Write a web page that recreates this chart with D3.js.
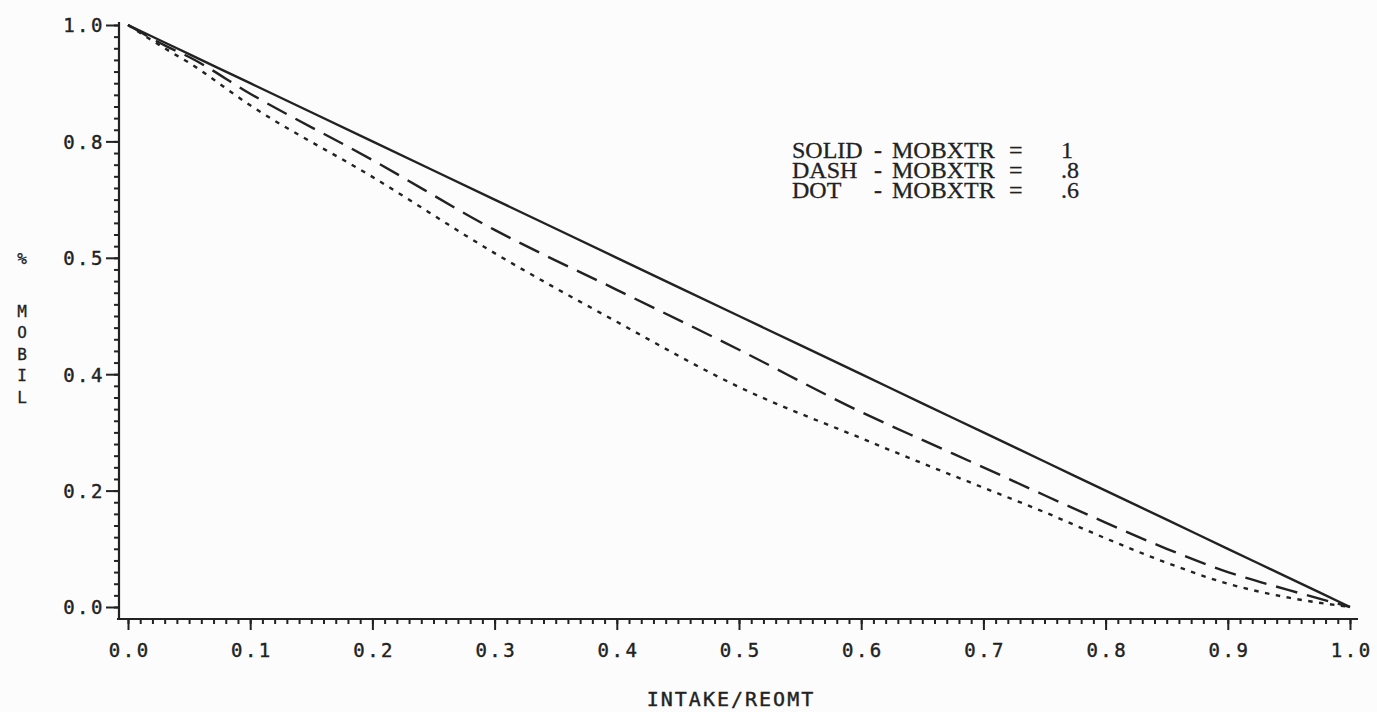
<!DOCTYPE html>
<html>
<head>
<meta charset="utf-8">
<script src="https://cdn.jsdelivr.net/npm/d3@7"></script>
<style>
  body { margin: 0; background: #fcfcfc; }
  svg { display: block; }
</style>
</head>
<body>
<div id="chart"></div>
<script>
// values
var xValues   = [0, 0.03, 0.05, 0.1, 0.2, 0.3, 0.4, 0.5, 0.6, 0.65, 0.7, 0.75, 0.8, 0.85, 0.9, 0.95, 1.0];
var solidMob  = [1, 0.97, 0.95, 0.9, 0.8, 0.7, 0.6, 0.5, 0.4, 0.35, 0.3, 0.25, 0.2, 0.15, 0.1, 0.05, 0];
var dashMob   = [1, 0.965, 0.945, 0.882, 0.768, 0.648, 0.545, 0.442, 0.335, 0.287, 0.24, 0.192, 0.145, 0.1, 0.06, 0.029, 0];
var dotMob    = [1, 0.96, 0.935, 0.862, 0.739, 0.608, 0.49, 0.378, 0.29, 0.247, 0.205, 0.163, 0.118, 0.076, 0.04, 0.016, 0];

var xTicks = [0, 0.1, 0.2, 0.3, 0.4, 0.5, 0.6, 0.7, 0.8, 0.9, 1.0];
var xTickLabels = ["0.0", "0.1", "0.2", "0.3", "0.4", "0.5", "0.6", "0.7", "0.8", "0.9", "1.0"];
var yTicks = [0, 0.2, 0.4, 0.6, 0.8, 1.0];
var yTickLabels = ["0.0", "0.2", "0.4", "0.5", "0.8", "1.0"];

var legendNames = ["SOLID", "DASH", "DOT"];
var legendValues = ["1", ".8", ".6"];

var W = 1377, H = 712;
var ink = "#222";

var svg = d3.select("#chart")
    .append("svg")
    .attr("width", W)
    .attr("height", H);

var xScale = d3.scaleLinear().domain([0, 1]).range([128, 1350]);
var yScale = d3.scaleLinear().domain([0, 1]).range([607, 25]);

var axisX = 119, axisY = 619;

// axis lines (offset from the data origin like the old plotter)
svg.append("line")
    .attr("x1", axisX).attr("x2", axisX)
    .attr("y1", yScale(1) - 3).attr("y2", axisY)
    .attr("stroke", ink).attr("stroke-width", 2.2);
svg.append("line")
    .attr("x1", axisX - 2).attr("x2", 1358)
    .attr("y1", axisY).attr("y2", axisY)
    .attr("stroke", ink).attr("stroke-width", 2.2);

// minor ticks
var yMinor = d3.range(0, 51).map(function (i) { return i / 50; });
var xMinor = d3.range(0, 101).map(function (i) { return i / 100; });

var yMinorAxis = svg.append("g")
    .attr("transform", "translate(" + axisX + ",0)")
    .call(d3.axisLeft(yScale).tickValues(yMinor).tickSize(5).tickFormat(""));
var xMinorAxis = svg.append("g")
    .attr("transform", "translate(0," + axisY + ")")
    .call(d3.axisBottom(xScale).tickValues(xMinor).tickSize(5).tickFormat(""));

// major ticks + labels
var yMajorAxis = svg.append("g")
    .attr("transform", "translate(" + axisX + ",0)")
    .call(d3.axisLeft(yScale).tickValues(yTicks).tickSize(13).tickPadding(3)
        .tickFormat(function (d, i) { return yTickLabels[i]; }));
var xMajorAxis = svg.append("g")
    .attr("transform", "translate(0," + axisY + ")")
    .call(d3.axisBottom(xScale).tickValues(xTicks).tickSize(11).tickPadding(14)
        .tickFormat(function (d, i) { return xTickLabels[i]; }));

[yMinorAxis, xMinorAxis, yMajorAxis, xMajorAxis].forEach(function (g) {
    g.select(".domain").remove();
    g.selectAll(".tick line").attr("stroke", ink).attr("stroke-width", 2);
    g.selectAll(".tick text")
        .attr("fill", ink)
        .attr("stroke", ink)
        .attr("stroke-width", 0.4)
        .style("font-family", "'DejaVu Sans Mono', monospace")
        .style("font-size", "19px")
        .style("letter-spacing", "2.5px");
});
yMajorAxis.selectAll(".tick text").attr("dy", "0.36em").attr("x", -14);
xMajorAxis.selectAll(".tick text").attr("dy", "0.71em").attr("dx", "1.2px");

// curves
var line = d3.line()
    .x(function (d) { return xScale(d[0]); })
    .y(function (d) { return yScale(d[1]); })
    .curve(d3.curveMonotoneX);

var series = [
    { vals: solidMob, dash: null },
    { vals: dashMob, dash: "22,10" },
    { vals: dotMob, dash: "4.5,6.5" }
];

svg.selectAll(".curve")
    .data(series)
    .enter()
    .append("path")
    .attr("class", "curve")
    .attr("d", function (s) { return line(xValues.map(function (x, i) { return [x, s.vals[i]]; })); })
    .attr("fill", "none")
    .attr("stroke", ink)
    .attr("stroke-width", 2.4)
    .attr("stroke-dasharray", function (s) { return s.dash; });

// y title: "%" level with the 0.6 tick, then M-O-B-I-L stacked, I level with 0.4
svg.selectAll(".ytitle")
    .data(["%", "M", "O", "B", "I", "L"])
    .enter()
    .append("text")
    .attr("class", "ytitle")
    .attr("x", 22)
    .attr("y", function (d, i) { return i === 0 ? 264 : 316.5 + (i - 1) * 21.5; })
    .attr("text-anchor", "middle")
    .attr("fill", ink)
    .attr("stroke", ink).attr("stroke-width", 0.3)
    .style("font-family", "'DejaVu Sans Mono', monospace")
    .style("font-size", "16px")
    .text(function (d) { return d; });

// x title
svg.append("text")
    .attr("x", 731).attr("y", 706)
    .attr("text-anchor", "middle")
    .attr("fill", ink)
    .attr("stroke", ink).attr("stroke-width", 0.4)
    .style("font-family", "'DejaVu Sans Mono', monospace")
    .style("font-size", "20px")
    .style("letter-spacing", "2px")
    .text("INTAKE/REOMT");

// legend (typed text)
var legend = svg.append("g")
    .style("font-family", "'Liberation Serif', serif")
    .style("font-size", "24px")
    .attr("fill", ink)
    .attr("stroke", ink)
    .attr("stroke-width", 0.3);

legendNames.forEach(function (name, i) {
    var y = 158 + i * 20;
    legend.append("text").attr("x", 792).attr("y", y).text(name);
    legend.append("text").attr("x", 874).attr("y", y).text("-");
    legend.append("text").attr("x", 892).attr("y", y).text("MOBXTR");
    legend.append("text").attr("x", 1009).attr("y", y).text("=");
    legend.append("text").attr("x", 1061).attr("y", y).text(legendValues[i]);
});
</script>
</body>
</html>
